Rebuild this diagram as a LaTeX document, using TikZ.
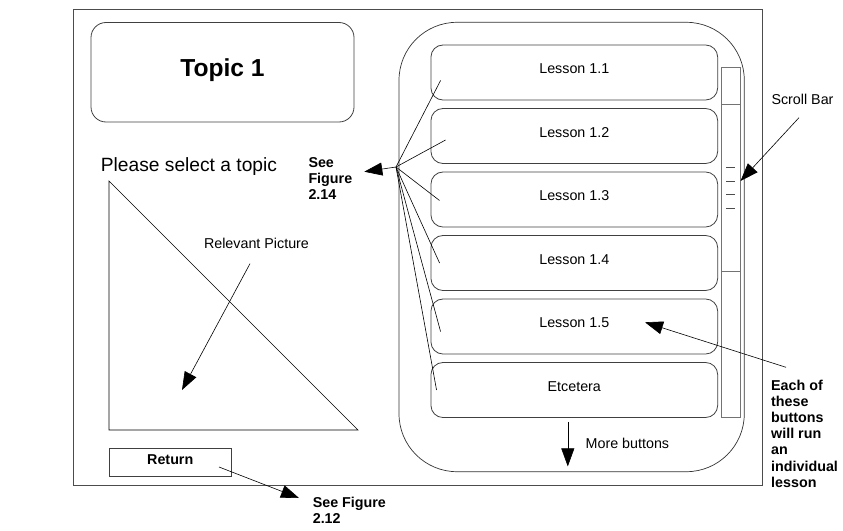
\documentclass[tikz,border=0pt]{standalone}
\usepackage{fontspec}
\setmainfont{Liberation Sans}
\usetikzlibrary{arrows.meta,positioning}
\begin{document}
\begin{tikzpicture}[x=1pt,y=-1pt,
	txt/.style={font=\fontsize{14.3}{16.2}\selectfont,inner sep=0pt},
	boldtxt/.style={inner sep=0pt,font=\fontsize{14.3}{16.2}\selectfont\bfseries,align=left},
	lessonbox/.style={txt,draw=black!75,line width=0.8pt,rounded corners=12pt,minimum width=286.7pt,minimum height=55pt,text depth=7pt},
	bigarrow/.style={-{Triangle[length=18pt,width=13pt]},line width=0.6pt}]
\useasboundingbox (0,0) rectangle (843,530);
\draw[black!70,line width=1pt] (73,9.5) rectangle (762,485.5);
\node[draw=black!75,line width=0.8pt,rounded corners=15pt,minimum width=263pt,minimum height=99.5pt,text depth=8.5pt,font=\fontsize{24.6}{28}\selectfont\bfseries] (topic) at (222.5,72.25) {Topic 1};
\node[anchor=base west,inner sep=0pt,font=\fontsize{19.2}{22}\selectfont] (select) at (100.7,171.7) {Please select a topic};
\draw[line width=0.6pt] (109,181) -- (109,430) -- (358,430) -- cycle;
\node[txt,anchor=base] (rel) at (256.5,248.3) {Relevant Picture};
\coordinate (pic) at (182,390);
\draw[bigarrow] ([shift={(-6.5,15)}]rel.south) -- (pic);
\node[draw=black!75,line width=0.8pt,minimum width=122.5pt,minimum height=27.5pt,text depth=6pt,font=\fontsize{14.3}{16.2}\selectfont\bfseries] (ret) at (170.25,462.25) {Return};
\node[boldtxt,anchor=north west] (fig212) at (312.6,497) {See Figure\\2.12};
\draw[bigarrow] ([shift={(48.75,4.75)}]ret.center) -- ([shift={(-13.6,1)}]fig212.north west);
\draw[black!80,line width=0.7pt,rounded corners=58pt] (399,22.3) rectangle (744.3,471.7);
\foreach \i/\t in {1/Lesson 1.1,2/Lesson 1.2,3/Lesson 1.3,4/Lesson 1.4,5/Lesson 1.5,6/Etcetera}{
	\node[lessonbox] (l\i) at (574.3,{72.5+63.5*(\i-1)}) {\t};}
\node[draw=black!55,line width=1pt,minimum width=19pt,minimum height=349.3pt,inner sep=0pt] (scroll) at (730.5,242.35) {};
\draw[black!55,line width=1pt] (721,104.3) -- (740,104.3);
\draw[black!55,line width=1pt] (721,271.7) -- (740,271.7);
\foreach \y in {167.7,181.3,194.7,208}{
	\draw[black!70,line width=0.8pt] (726,\y) -- (735.3,\y);}
\node[txt,anchor=base] (sbar) at (802.5,104.3) {Scroll Bar};
\draw[bigarrow] ([shift={(-3.5,13)}]sbar.south) -- ([yshift=61.35pt]scroll.east);
\coordinate (hub) at (396,167);
\foreach \n/\dx/\dy in {l1/10/8,l2/15/4,l3/9/1,l4/9/0,l5/10/5,l6/6/0}{
	\draw[line width=0.6pt] (hub) -- ([shift={(\dx,\dy)}]\n.west);}
\node[boldtxt,anchor=north west] (fig214) at (308.3,157.3) {See\\Figure\\2.14};
\draw[bigarrow] (hub) -- ([shift={(56,14.4)}]fig214.north west);
\node[boldtxt,anchor=north west] (each) at (771,379.5) {Each of\\these\\buttons\\will run\\an\\individual\\lesson};
\draw[bigarrow] ([shift={(15,-12.2)}]each.north west) -- ([shift={(70.7,-4.2)}]l5.center);
\draw[bigarrow] ([shift={(-6.5,4)}]l6.south) -- ++(0,44.5);
\node[txt,anchor=base west] (more) at (585.5,448) {More buttons};
\end{tikzpicture}
\end{document}
